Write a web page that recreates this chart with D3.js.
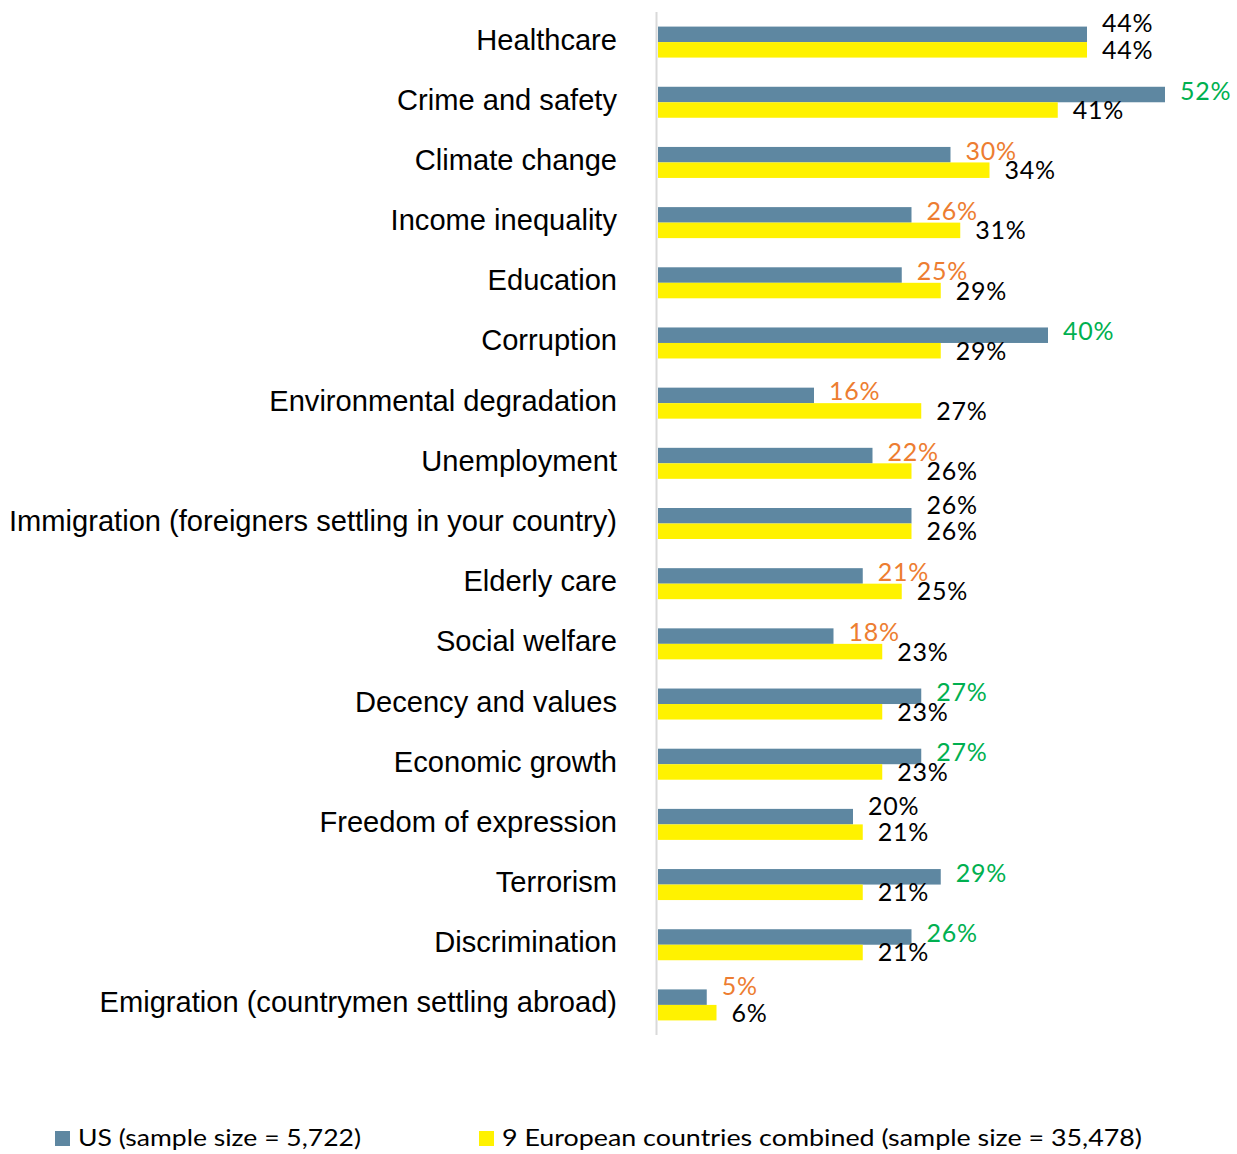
<!DOCTYPE html>
<html>
<head>
<meta charset="utf-8">
<script src="https://cdn.jsdelivr.net/npm/d3@7"></script>
<style>
  body { margin: 0; background: #fff; }
</style>
</head>
<body>
<div id="chart"></div>
<script>
var categories = [
  "Healthcare", "Crime and safety", "Climate change", "Income inequality",
  "Education", "Corruption", "Environmental degradation", "Unemployment",
  "Immigration (foreigners settling in your country)", "Elderly care",
  "Social welfare", "Decency and values", "Economic growth",
  "Freedom of expression", "Terrorism", "Discrimination",
  "Emigration (countrymen settling abroad)"
];
var usValues = [44, 52, 30, 26, 25, 40, 16, 22, 26, 21, 18, 27, 27, 20, 29, 26, 5];
var euValues = [44, 41, 34, 31, 29, 29, 27, 26, 26, 25, 23, 23, 23, 21, 21, 21, 6];
// how the US compares: "higher", "lower" or "same"
var usCompare = ["same", "higher", "lower", "lower", "lower", "higher", "lower", "lower",
  "same", "lower", "lower", "higher", "higher", "same", "higher", "higher", "lower"];
var seriesNames = ["US (sample size = 5,722)", "9 European countries combined (sample size = 35,478)"];

var width = 1237, height = 1154;
var usColor = "#5e87a1", euColor = "#fff200";
var compareColor = { higher: "#00b050", lower: "#ed7d31", same: "#000" };

var svg = d3.select("#chart").append("svg")
  .attr("width", width)
  .attr("height", height)
  .style("font-family", "'Liberation Sans', Arial, sans-serif");

var x = d3.scaleLinear().domain([0, 60]).range([658, 658 + 60 * 9.75]);
var y = d3.scaleBand().domain(categories).range([12, 1035]);
var inner = d3.scaleBand().domain(["us", "eu"])
  .range([y.bandwidth() / 2 - 15.5, y.bandwidth() / 2 + 15.5]);

var rows = categories.map(function (c, i) {
  return { cat: c, us: usValues[i], eu: euValues[i], cmp: usCompare[i] };
});

var row = svg.selectAll("g.row")
  .data(rows)
  .join("g")
  .attr("class", "row")
  .attr("transform", function (d) { return "translate(0," + y(d.cat) + ")"; });

row.append("rect")
  .attr("x", x(0))
  .attr("y", inner("us"))
  .attr("width", function (d) { return x(d.us) - x(0); })
  .attr("height", inner.bandwidth())
  .attr("fill", usColor);

row.append("rect")
  .attr("x", x(0))
  .attr("y", inner("eu"))
  .attr("width", function (d) { return x(d.eu) - x(0); })
  .attr("height", inner.bandwidth())
  .attr("fill", euColor);

// category labels
row.append("text")
  .attr("x", 617)
  .attr("y", y.bandwidth() / 2 + 7.5)
  .attr("text-anchor", "end")
  .style("font-size", "29.1px")
  .style("fill", "#000")
  .text(function (d) { return d.cat; });

// value labels
row.append("text")
  .attr("x", function (d) { return x(d.us) + 15; })
  .attr("y", function (d) {
    var shift = Math.abs(d.us - d.eu) <= 1 ? -10 : -3;
    return inner("us") + inner.bandwidth() / 2 + 8 + shift;
  })
  .style("font-family", "Lato, sans-serif")
  .style("font-size", "25px")
  .style("letter-spacing", "0.8px")
  .style("fill", function (d) { return compareColor[d.cmp]; })
  .text(function (d) { return d.us + "%"; });

row.append("text")
  .attr("x", function (d) { return x(d.eu) + 15; })
  .attr("y", inner("eu") + inner.bandwidth() / 2 + 9)
  .style("font-family", "Lato, sans-serif")
  .style("font-size", "25px")
  .style("letter-spacing", "0.8px")
  .style("fill", "#000")
  .text(function (d) { return d.eu + "%"; });

// axis line
svg.append("line")
  .attr("x1", 656.5).attr("x2", 656.5)
  .attr("y1", 12).attr("y2", 1035)
  .attr("stroke", "#d9d9d9")
  .attr("stroke-width", 2);

// legend
var legend = [
  { name: seriesNames[0], color: usColor, x: 55, len: 283 },
  { name: seriesNames[1], color: euColor, x: 479, len: 640 }
];
var lg = svg.selectAll("g.legend")
  .data(legend)
  .join("g")
  .attr("class", "legend")
  .attr("transform", function (d) { return "translate(" + d.x + ",1131)"; });
lg.append("rect")
  .attr("width", 15).attr("height", 15)
  .attr("fill", function (d) { return d.color; });
lg.append("text")
  .attr("x", 23)
  .attr("y", 15)
  .attr("textLength", function (d) { return d.len; })
  .attr("lengthAdjust", "spacingAndGlyphs")
  .style("font-family", "Lato, sans-serif")
  .style("font-size", "24px")
  .style("fill", "#000")
  .text(function (d) { return d.name; });
</script>
</body>
</html>
